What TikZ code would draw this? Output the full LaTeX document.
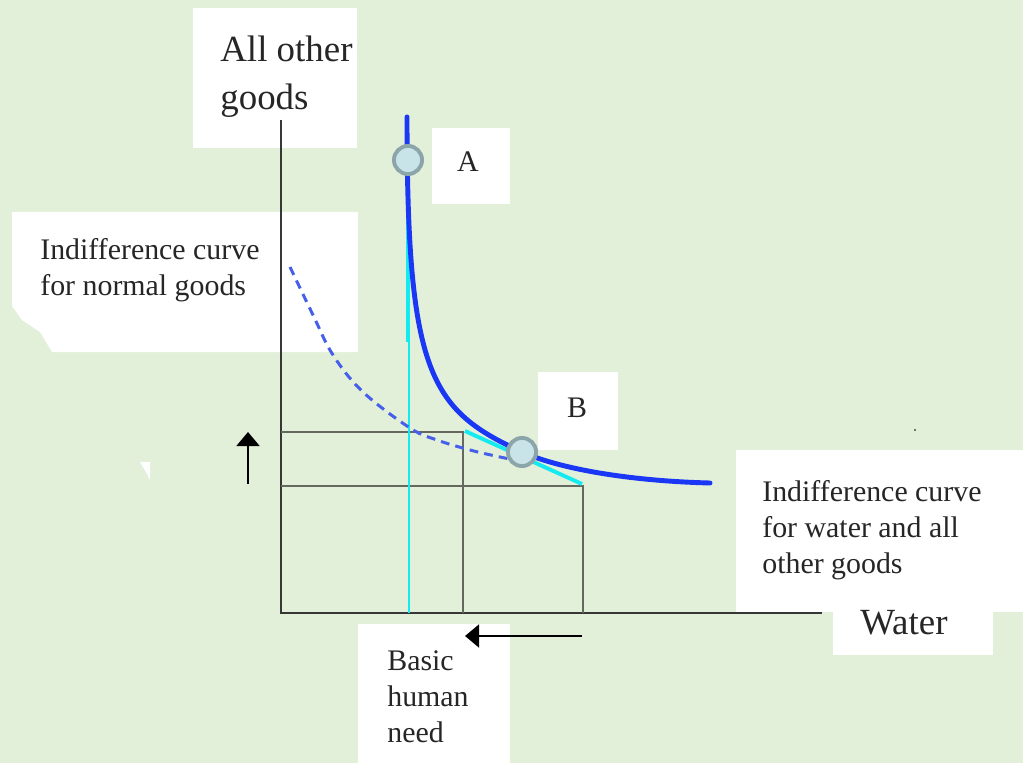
\documentclass[tikz,border=0pt]{standalone}
\usepackage{fontspec}
\setmainfont{Liberation Serif}
\usetikzlibrary{arrows.meta, positioning}
\definecolor{bggreen}{RGB}{226,239,217}
\definecolor{curveblue}{RGB}{25,55,245}
\definecolor{dashblue}{RGB}{70,95,235}
\definecolor{tancyan}{RGB}{20,235,240}
\definecolor{axisgray}{RGB}{55,55,55}
\definecolor{gridgray}{RGB}{100,104,94}
\definecolor{dotedge}{RGB}{140,165,170}
\definecolor{dotfill}{RGB}{200,228,232}
\tikzset{
  lbl/.style={font=\fontsize{17}{20.5}\selectfont, align=left, inner sep=0pt, anchor=north west, text=black!85},
  biglbl/.style={font=\fontsize{21}{27}\selectfont, align=left, inner sep=0pt, anchor=north west, text=black!85},
  axis/.style={draw=axisgray, line width=1.7pt},
  gridline/.style={draw=gridgray, line width=1pt},
  icurve/.style={draw=curveblue, line width=2.8pt, line cap=round},
  tangent/.style={draw=tancyan, line width=2.2pt},
  pointdot/.style={circle, draw=dotedge, fill=dotfill, line width=2.2pt, minimum size=16pt, inner sep=0pt},
  shiftarrow/.style={draw=black, line width=1.5pt, -{Triangle[length=8pt, width=13pt]}}
}
\begin{document}
\begin{tikzpicture}[x=0.02cm, y=-0.02cm]
  % background
  \fill[bggreen] (0,0) rectangle (1023,763);
  \useasboundingbox (0,0) rectangle (1023,763);
  % white label boxes
  \fill[white] (193,8) rectangle (357,148);
  \fill[white] (432,128) rectangle (510,204);
  \fill[white] (12,212) -- (358,212) -- (358,352) -- (52,352) -- (40,332) -- (22,320) -- (12,306) -- cycle;
  \fill[white] (538,372) rectangle (618,450);
  \fill[white] (736,450) rectangle (1023,612);
  \fill[white] (833,612) rectangle (993,655);
  \fill[white] (358,624) rectangle (510,763);
  \fill[white] (140,462) -- (150,462) -- (150,480) -- (146,472) -- cycle;
  \fill[black!70] (915,430) circle (1.2);
  % axes
  \coordinate (origin) at (281,613);
  \coordinate (ytop) at (281,120);
  \coordinate (xend) at (822,613);
  \draw[axis] (ytop) -- (origin) -- (xend);
  % reference lines
  \coordinate (hiY) at (281,432);
  \coordinate (hiC) at (463,432);
  \coordinate (hiX) at (463,613);
  \coordinate (loY) at (281,486);
  \coordinate (loC) at (583,486);
  \coordinate (loX) at (583,613);
  \draw[gridline] (hiY) -- (hiC) -- (hiX);
  \draw[gridline] (loY) -- (loC) -- (loX);
  \coordinate (needtop) at (409,340);
  \coordinate (needX) at (409,613);
  \draw[draw=tancyan, line width=0.8pt] (needtop) -- (needX);
  % indifference curve for normal goods
  \draw[draw=dashblue, line width=1.7pt, dash pattern=on 5pt off 3.5pt]
    plot[smooth, tension=0.6] coordinates {(290,267) (313,315) (333,355) (363,392) (410,428) (437,440) (470,450) (500,457) (515,460)};
  % tangents
  \coordinate (tanAtop) at (408,160);
  \coordinate (tanAbot) at (408,342);
  \coordinate (tanBl) at (465,431);
  \coordinate (tanBr) at (582,484);
  \draw[tangent] (tanAtop) -- (tanAbot);
  \draw[tangent] (tanBl) -- (tanBr);
  % indifference curve for water
  \draw[icurve] (407,117) .. controls (407,374) and (430,410) .. (522,452)
    .. controls (560,469) and (630,481) .. (710,483);
  % points
  \node[pointdot] (dotA) at (408,160) {};
  \node[pointdot] (dotB) at (522,452) {};
  % shift arrows
  \coordinate (upfrom) at (248,484);
  \coordinate (upto) at (248,432);
  \coordinate (leftfrom) at (582,636);
  \coordinate (leftto) at (465,636);
  \draw[shiftarrow] (upfrom) -- (upto);
  \draw[shiftarrow] (leftfrom) -- (leftto);
  % labels
  \node[biglbl] (ylabel) at (220,36) {All other\\goods};
  \node[biglbl] (xlabel) at (860,610) {Water};
  \node[lbl, anchor=center] (labA) at (468,162) {A};
  \node[lbl, anchor=center] (labB) at (577,408) {B};
  \node[lbl] (normal) at (40,238) {Indifference curve\\for normal goods};
  \node[lbl] (water) at (762,480) {Indifference curve\\for water and all\\other goods};
  \node[lbl] (need) at (387,650) {Basic\\human\\need};
\end{tikzpicture}
\end{document}
